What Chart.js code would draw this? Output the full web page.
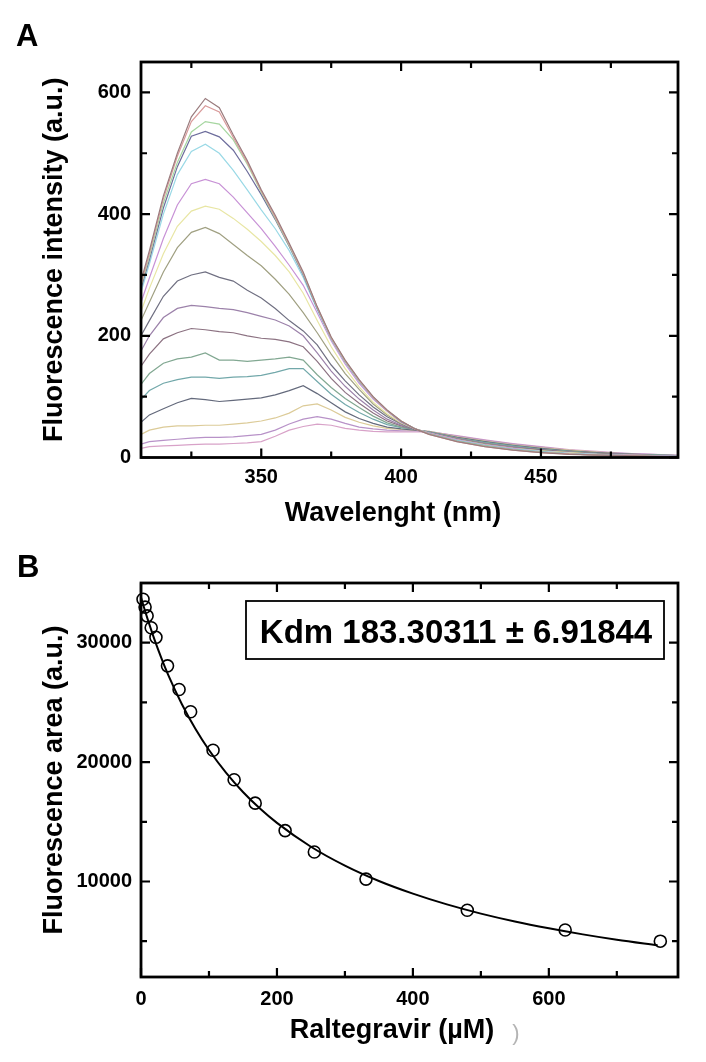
<!DOCTYPE html>
<html>
<head>
<meta charset="utf-8">
<script src="https://cdn.jsdelivr.net/npm/chart.js@4.4.1/dist/chart.umd.min.js"></script>
<style>
html,body{margin:0;padding:0;background:#fff;}
#wrap{position:relative;width:706px;height:1062px;overflow:hidden;}
canvas{position:absolute;left:0;}
#cA{top:0;} #cB{top:530px;}
</style>
</head>
<body>
<div id="wrap">
  <canvas id="cA" width="706" height="530"></canvas>
  <canvas id="cB" width="706" height="532"></canvas>
</div>
<script>
const FONT = "'Liberation Sans', Arial, sans-serif";

// panel A: emission spectra (nm, a.u.)
const WAVELENGTH = [307,310,315,320,325,330,335,340,345,350,355,360,365,370,375,380,385,390,395,400,405,410,420,430,440,450,460,470,480,490,499];
const SPEC_01 = [290,340,430,500,560,590,575,530,488,440,398,352,305,248,198,160,128,100,78,60,47,38,26,18,12,8,5,4,3,2,1];
const SPEC_02 = [285,335,425,495,552,578,568,526,485,438,395,350,303,247,197,159,127,99,77,60,47,38,26,18,12,8,6,4,3,2,1];
const SPEC_03 = [282,330,418,485,535,552,548,522,482,436,393,348,302,246,196,158,126,99,77,60,47,39,27,19,13,9,6,4,3,2,1];
const SPEC_04 = [278,325,410,478,528,536,527,505,470,432,391,347,300,245,196,158,126,99,77,59,47,39,27,19,13,9,6,4,3,2,2];
const SPEC_05 = [272,318,400,465,503,515,500,472,440,407,376,340,296,243,195,157,125,98,77,59,47,39,28,20,14,10,7,5,3,2,2];
const SPEC_06 = [255,295,360,415,450,457,450,428,402,376,347,316,283,238,192,154,122,96,76,58,47,40,29,21,15,10,7,5,4,3,2];
const SPEC_07 = [240,278,335,380,405,413,408,393,375,355,332,305,270,225,182,146,116,91,72,57,47,40,29,21,15,11,8,5,4,3,2];
const SPEC_08 = [225,255,305,345,370,378,368,350,332,315,293,268,238,205,170,138,112,88,70,56,47,40,30,22,16,11,8,6,4,3,2];
const SPEC_09 = [200,225,265,290,300,305,296,290,275,262,245,225,208,185,152,126,103,83,67,55,46,40,30,22,16,12,8,6,4,3,2];
const SPEC_10 = [175,200,230,245,250,248,245,243,238,232,226,216,200,172,142,117,96,78,63,53,46,41,31,23,17,12,9,6,5,3,2];
const SPEC_11 = [150,170,195,205,212,210,207,205,200,196,194,190,182,158,130,107,89,73,60,52,46,41,31,23,17,13,9,7,5,3,2];
const SPEC_12 = [120,138,155,162,165,172,160,160,158,160,162,165,160,136,115,97,82,68,57,50,46,41,32,24,18,13,10,7,5,4,3];
const SPEC_13 = [95,110,122,128,132,132,130,132,133,135,140,146,146,125,104,87,74,63,54,49,46,42,32,25,19,14,10,7,5,4,3];
const SPEC_14 = [58,70,80,90,97,95,92,94,96,98,103,110,118,105,90,75,64,56,50,47,45,42,33,26,20,15,11,8,6,4,3];
const SPEC_15 = [38,45,50,52,52,53,53,55,57,60,65,73,85,88,78,66,58,52,48,46,45,43,34,27,21,16,12,9,6,4,3];
const SPEC_16 = [22,26,28,30,32,33,33,34,36,38,45,55,63,67,63,56,50,47,45,44,44,43,35,28,22,17,12,9,7,5,3];
const SPEC_17 = [15,18,19,20,21,22,22,23,24,26,35,45,51,55,53,48,45,43,42,42,42,42,36,29,23,18,13,10,7,5,4];
const SPECTRA = [SPEC_01,SPEC_02,SPEC_03,SPEC_04,SPEC_05,SPEC_06,SPEC_07,SPEC_08,SPEC_09,SPEC_10,SPEC_11,SPEC_12,SPEC_13,SPEC_14,SPEC_15,SPEC_16,SPEC_17];
const SPEC_COLORS = ['#9a7c7e','#d99b9b','#a6d6a0','#6d6d9c','#9ad9e6','#c892d6','#e8e6a4','#a0a082','#707082','#9c82aa','#8c7282','#82a892','#72a8aa','#646a7c','#dccb98','#b892c8','#d8a2c8'];
const A_X_TICKS = [325,350,375,400,425,450,475];
const A_Y_TICKS = [0,100,200,300,400,500,600];

// panel B: titration (uM, a.u.)
const RAL_CONC = [3,6,9,15,22,39,56,73,106,137,168,212,255,331,480,624,764];
const RAL_AREA = [33640,32980,32250,31250,30450,28060,26080,24220,20990,18520,16560,14260,12470,10200,7590,5940,5000];
const FIT_CONC = [0,5,10,20,30,40,60,80,100,125,150,175,200,250,300,350,400,450,500,550,600,650,700,760];
const FIT_AREA = [33800,32840,31930,30240,28710,27310,24870,22790,21010,19120,17500,16110,14910,12910,11330,10040,8980,8080,7310,6650,6080,5570,5120,4650];
const B_X_TICKS = [0,100,200,300,400,500,600,700];
const B_Y_TICKS = [5000,10000,15000,20000,25000,30000];
const KDM_TEXT = 'Kdm 183.30311 \u00b1 6.91844';

const tickFont = {family:FONT, size:20, weight:'bold'};
const titleFont = {family:FONT, size:27, weight:'bold'};

// box with inward ticks on all four sides + panel texts
const framePlugin = {
  id:'frame',
  afterDatasetsDraw(chart, args, o){
    const {ctx, chartArea:{left,right,top,bottom}, scales:{x,y}} = chart;
    ctx.save();
    ctx.strokeStyle='#000'; ctx.lineWidth=2.2; ctx.lineCap='butt';
    ctx.beginPath();
    x.ticks.forEach(t=>{ const p=x.getPixelForValue(t.value), l=t.label!==''?9:6;
      ctx.moveTo(p,bottom); ctx.lineTo(p,bottom-l); ctx.moveTo(p,top); ctx.lineTo(p,top+l); });
    y.ticks.forEach(t=>{ const p=y.getPixelForValue(t.value), l=t.label!==''?9:6;
      ctx.moveTo(left,p); ctx.lineTo(left+l,p); ctx.moveTo(right,p); ctx.lineTo(right-l,p); });
    ctx.stroke();
    ctx.lineWidth=2.8; ctx.strokeRect(left,top,right-left,bottom-top);
    ctx.fillStyle='#000'; ctx.textBaseline='alphabetic';
    ctx.font="bold 31px "+FONT; ctx.textAlign='left'; ctx.fillText(o.letter,o.letterAt[0],o.letterAt[1]);
    ctx.font="bold 27px "+FONT; ctx.textAlign='center'; ctx.fillText(o.xTitle,o.xTitleAt[0],o.xTitleAt[1]);
    if(o.box){ const b=o.box; ctx.lineWidth=1.8; ctx.strokeRect(b[0],b[1],b[2],b[3]);
      ctx.font="bold 33px "+FONT; ctx.fillText(o.boxText,o.boxTextAt[0],o.boxTextAt[1]); }
    if(o.stray){ ctx.fillStyle='#b4b4b4'; ctx.font="22px "+FONT; ctx.fillText(')',o.stray[0],o.stray[1]); }
    ctx.restore();
  }
};

function axis(min,max,ticks,every,pad,extra){
  return Object.assign({type:'linear',min,max,
    afterBuildTicks:s=>{ s.ticks=ticks.map(v=>({value:v})); },
    grid:{display:false,drawTicks:false}, border:{display:false},
    ticks:{color:'#000',font:tickFont,padding:pad,autoSkip:false,maxRotation:0,
      callback:v=>v%every===0?String(v):''}}, extra);
}

new Chart(document.getElementById('cA'), {
  type:'scatter',
  data:{ datasets: SPECTRA.map((s,i)=>({
    data: WAVELENGTH.map((w,j)=>({x:w,y:s[j]})),
    showLine:true, borderColor:SPEC_COLORS[i], borderWidth:1.2, pointRadius:0, tension:0 })) },
  options:{
    responsive:false, animation:false, events:[],
    layout:{padding:{left:0,top:62,right:28,bottom:0}},
    plugins:{legend:{display:false}, tooltip:{enabled:false},
      frame:{letter:'A',letterAt:[16,46],xTitle:'Wavelenght (nm)',xTitleAt:[393,521]}},
    scales:{
      x: axis(307,499,A_X_TICKS,50,8,{afterFit:s=>{s.height=72.5;}}),
      y: axis(0,650,A_Y_TICKS,200,10,{afterFit:s=>{s.width=141;},
        title:{display:true,text:'Fluorescence intensity (a.u.)',color:'#000',font:titleFont,padding:{top:38,bottom:0}}})
    }
  },
  plugins:[framePlugin]
});

new Chart(document.getElementById('cB'), {
  type:'scatter',
  data:{ datasets:[
    { data: RAL_CONC.map((c,i)=>({x:c,y:RAL_AREA[i]})), pointRadius:6, pointBorderWidth:1.6,
      pointBackgroundColor:'rgba(0,0,0,0)', pointBorderColor:'#000', clip:false },
    { data: FIT_CONC.map((c,i)=>({x:c,y:FIT_AREA[i]})), showLine:true, borderColor:'#000', borderWidth:2,
      pointRadius:0, cubicInterpolationMode:'monotone' }
  ]},
  options:{
    responsive:false, animation:false, events:[],
    layout:{padding:{left:0,top:53,right:28,bottom:0}},
    plugins:{legend:{display:false}, tooltip:{enabled:false},
      frame:{letter:'B',letterAt:[17,47],xTitle:'Raltegravir (\u00b5M)',xTitleAt:[392,508],
        box:[246,71,418,58],boxText:KDM_TEXT,boxTextAt:[456,113],stray:[516,510]}},
    scales:{
      x: axis(0,790,B_X_TICKS,200,10,{afterFit:s=>{s.height=85;}}),
      y: axis(2000,35000,B_Y_TICKS,10000,9,{afterFit:s=>{s.width=141;},
        title:{display:true,text:'Fluorescence area (a.u.)',color:'#000',font:titleFont,padding:{top:38,bottom:0}}})
    }
  },
  plugins:[framePlugin]
});
</script>
</body>
</html>
